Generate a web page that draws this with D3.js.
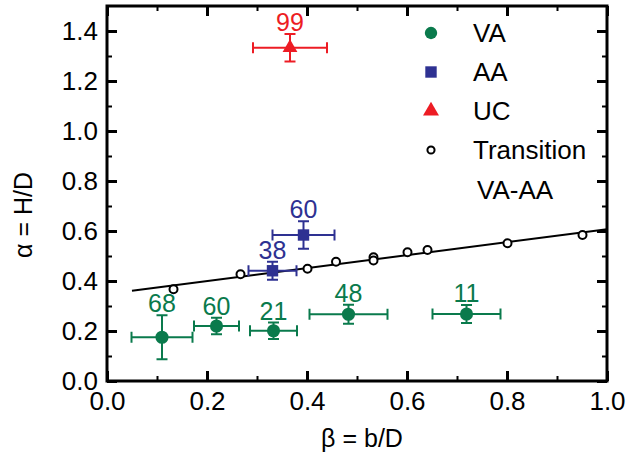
<!DOCTYPE html>
<meta charset="utf-8">
<style>
  body { margin: 0; background: #fff; }
  svg { font-family: "Liberation Sans", Arial, sans-serif; }
  .axis text { font-size: 26px; fill: #000; }
  .axis line { stroke: #000; }
  .axis path { display: none; }
  .major line { stroke-width: 3; }
  .minor line { stroke-width: 2; }
</style>
<body>
<script src="https://d3js.org/d3.v7.min.js"></script>
<script>
  // VA series (green circles)
  const vaX = [0.110, 0.219, 0.333, 0.483, 0.719];
  const vaY = [0.175, 0.220, 0.201, 0.267, 0.268];
  const vaXErr = [0.061, 0.045, 0.047, 0.078, 0.068];
  const vaYErr = [0.088, 0.033, 0.033, 0.038, 0.036];
  const vaLabels = ["68", "60", "21", "48", "11"];

  // AA series (blue squares)
  const aaX = [0.331, 0.393];
  const aaY = [0.441, 0.584];
  const aaXErr = [0.048, 0.062];
  const aaYErr = [0.036, 0.055];
  const aaLabels = ["38", "60"];

  // UC series (red triangle)
  const ucX = [0.366];
  const ucY = [1.333];
  const ucXErr = [0.074];
  const ucYErr = [0.055];
  const ucLabels = ["99"];

  // transition points (open circles) and the fitted line
  const transX = [0.133, 0.267, 0.401, 0.458, 0.533, 0.533, 0.601, 0.641, 0.801, 0.951];
  const transY = [0.367, 0.427, 0.449, 0.477, 0.495, 0.482, 0.515, 0.524, 0.551, 0.584];
  const fitX = [0.05, 1.0];
  const fitY = [0.361, 0.607];

  const xTicks = [0, 0.2, 0.4, 0.6, 0.8, 1.0];
  const yTicks = [0, 0.2, 0.4, 0.6, 0.8, 1.0, 1.2, 1.4];
  const xMinor = [0.1, 0.3, 0.5, 0.7, 0.9];
  const yMinor = [0.1, 0.3, 0.5, 0.7, 0.9, 1.1, 1.3];

  const legendNames = ["VA", "AA", "UC", "Transition"];

  const width = 626, height = 466;
  const margin = { left: 107, top: 6, right: 19, bottom: 85 };
  const iw = width - margin.left - margin.right;
  const ih = height - margin.top - margin.bottom;

  const green = "#0a7a4c", blue = "#2e3192", red = "#ed1c24";

  const x = d3.scaleLinear().domain([0, 1.0]).range([0, iw]);
  const y = d3.scaleLinear().domain([0, 1.5]).range([ih, 0]);

  const svg = d3.select("body").append("svg")
    .attr("width", width)
    .attr("height", height);

  const g = svg.append("g")
    .attr("transform", "translate(" + margin.left + "," + margin.top + ")");

  // axes, ticks pointing inward
  g.append("g").attr("class", "axis major")
    .attr("transform", "translate(0," + ih + ")")
    .call(d3.axisBottom(x).tickValues(xTicks).tickSize(-10).tickSizeOuter(0)
      .tickPadding(11).tickFormat(d3.format(".1f")));
  g.append("g").attr("class", "axis minor")
    .attr("transform", "translate(0," + ih + ")")
    .call(d3.axisBottom(x).tickValues(xMinor).tickSize(-5).tickSizeOuter(0).tickFormat(""));
  g.append("g").attr("class", "axis major")
    .call(d3.axisTop(x).tickValues(xTicks).tickSize(-10).tickSizeOuter(0).tickFormat(""));
  g.append("g").attr("class", "axis minor")
    .call(d3.axisTop(x).tickValues(xMinor).tickSize(-5).tickSizeOuter(0).tickFormat(""));

  g.append("g").attr("class", "axis major")
    .call(d3.axisLeft(y).tickValues(yTicks).tickSize(-10).tickSizeOuter(0)
      .tickPadding(9).tickFormat(d3.format(".1f")));
  g.append("g").attr("class", "axis minor")
    .call(d3.axisLeft(y).tickValues(yMinor).tickSize(-5).tickSizeOuter(0).tickFormat(""));
  g.append("g").attr("class", "axis major")
    .attr("transform", "translate(" + iw + ",0)")
    .call(d3.axisRight(y).tickValues(yTicks).tickSize(-10).tickSizeOuter(0).tickFormat(""));
  g.append("g").attr("class", "axis minor")
    .attr("transform", "translate(" + iw + ",0)")
    .call(d3.axisRight(y).tickValues(yMinor).tickSize(-5).tickSizeOuter(0).tickFormat(""));

  g.append("rect")
    .attr("width", iw).attr("height", ih)
    .attr("fill", "none").attr("stroke", "#000").attr("stroke-width", 3);

  // axis titles
  svg.append("text")
    .attr("transform", "translate(32,215) rotate(-90)")
    .attr("text-anchor", "middle")
    .attr("font-size", 25)
    .text("\u03b1 = H/D");
  svg.append("text")
    .attr("x", 362).attr("y", 447)
    .attr("text-anchor", "middle")
    .attr("font-size", 25)
    .text("\u03b2 = b/D");

  // fitted transition line
  g.append("line")
    .attr("x1", x(fitX[0])).attr("y1", y(fitY[0]))
    .attr("x2", x(fitX[1])).attr("y2", y(fitY[1]))
    .attr("stroke", "#000").attr("stroke-width", 2);

  g.selectAll(".trans")
    .data(d3.zip(transX, transY))
    .enter().append("circle")
    .attr("cx", d => x(d[0]))
    .attr("cy", d => y(d[1]))
    .attr("r", 4)
    .attr("fill", "#fff")
    .attr("stroke", "#000")
    .attr("stroke-width", 2);

  function series(xs, ys, xe, ye, labels, color, symbol, size) {
    const data = xs.map((v, i) => ({ x: v, y: ys[i], xe: xe[i], ye: ye[i], label: labels[i] }));
    const s = g.append("g").attr("stroke", color).attr("fill", color);
    const cap = 5.5;
    data.forEach(function (d) {
      const cx = x(d.x), cy = y(d.y);
      const x0 = x(d.x - d.xe), x1 = x(d.x + d.xe);
      const y0 = y(d.y - d.ye), y1 = y(d.y + d.ye);
      const eb = s.append("g").attr("stroke-width", 2);
      eb.append("line").attr("x1", x0).attr("x2", x1).attr("y1", cy).attr("y2", cy);
      eb.append("line").attr("x1", x0).attr("x2", x0).attr("y1", cy - cap).attr("y2", cy + cap);
      eb.append("line").attr("x1", x1).attr("x2", x1).attr("y1", cy - cap).attr("y2", cy + cap);
      eb.append("line").attr("x1", cx).attr("x2", cx).attr("y1", y0).attr("y2", y1);
      eb.append("line").attr("x1", cx - cap).attr("x2", cx + cap).attr("y1", y0).attr("y2", y0);
      eb.append("line").attr("x1", cx - cap).attr("x2", cx + cap).attr("y1", y1).attr("y2", y1);
      s.append("path")
        .attr("d", d3.symbol().type(symbol).size(size)())
        .attr("transform", "translate(" + cx + "," + cy + ")")
        .attr("stroke", "none");
      s.append("text")
        .attr("x", cx).attr("y", y1 - 3)
        .attr("text-anchor", "middle")
        .attr("stroke", "none")
        .attr("font-size", 25)
        .text(d.label);
    });
  }

  series(vaX, vaY, vaXErr, vaYErr, vaLabels, green, d3.symbolCircle, 135);
  series(aaX, aaY, aaXErr, aaYErr, aaLabels, blue, d3.symbolSquare, 130);
  series(ucX, ucY, ucXErr, ucYErr, ucLabels, red, d3.symbolTriangle, 95);

  // legend
  const legend = svg.append("g");
  const legendY = [33, 72, 111, 150];
  const legendSym = [
    { type: d3.symbolCircle, size: 120, fill: green, stroke: "none" },
    { type: d3.symbolSquare, size: 130, fill: blue, stroke: "none" },
    { type: d3.symbolTriangle, size: 110, fill: red, stroke: "none" },
    { type: d3.symbolCircle, size: 40, fill: "#fff", stroke: "#000" }
  ];
  legendNames.forEach(function (name, i) {
    legend.append("path")
      .attr("d", d3.symbol().type(legendSym[i].type).size(legendSym[i].size)())
      .attr("transform", "translate(431," + legendY[i] + ")")
      .attr("fill", legendSym[i].fill)
      .attr("stroke", legendSym[i].stroke)
      .attr("stroke-width", 2);
    legend.append("text")
      .attr("x", 473).attr("y", legendY[i])
      .attr("dy", "0.36em")
      .attr("font-size", 26)
      .text(name);
  });
  legend.append("text")
    .attr("x", 477).attr("y", 190)
    .attr("dy", "0.36em")
    .attr("font-size", 26)
    .text("VA-AA");
</script>
</body>
